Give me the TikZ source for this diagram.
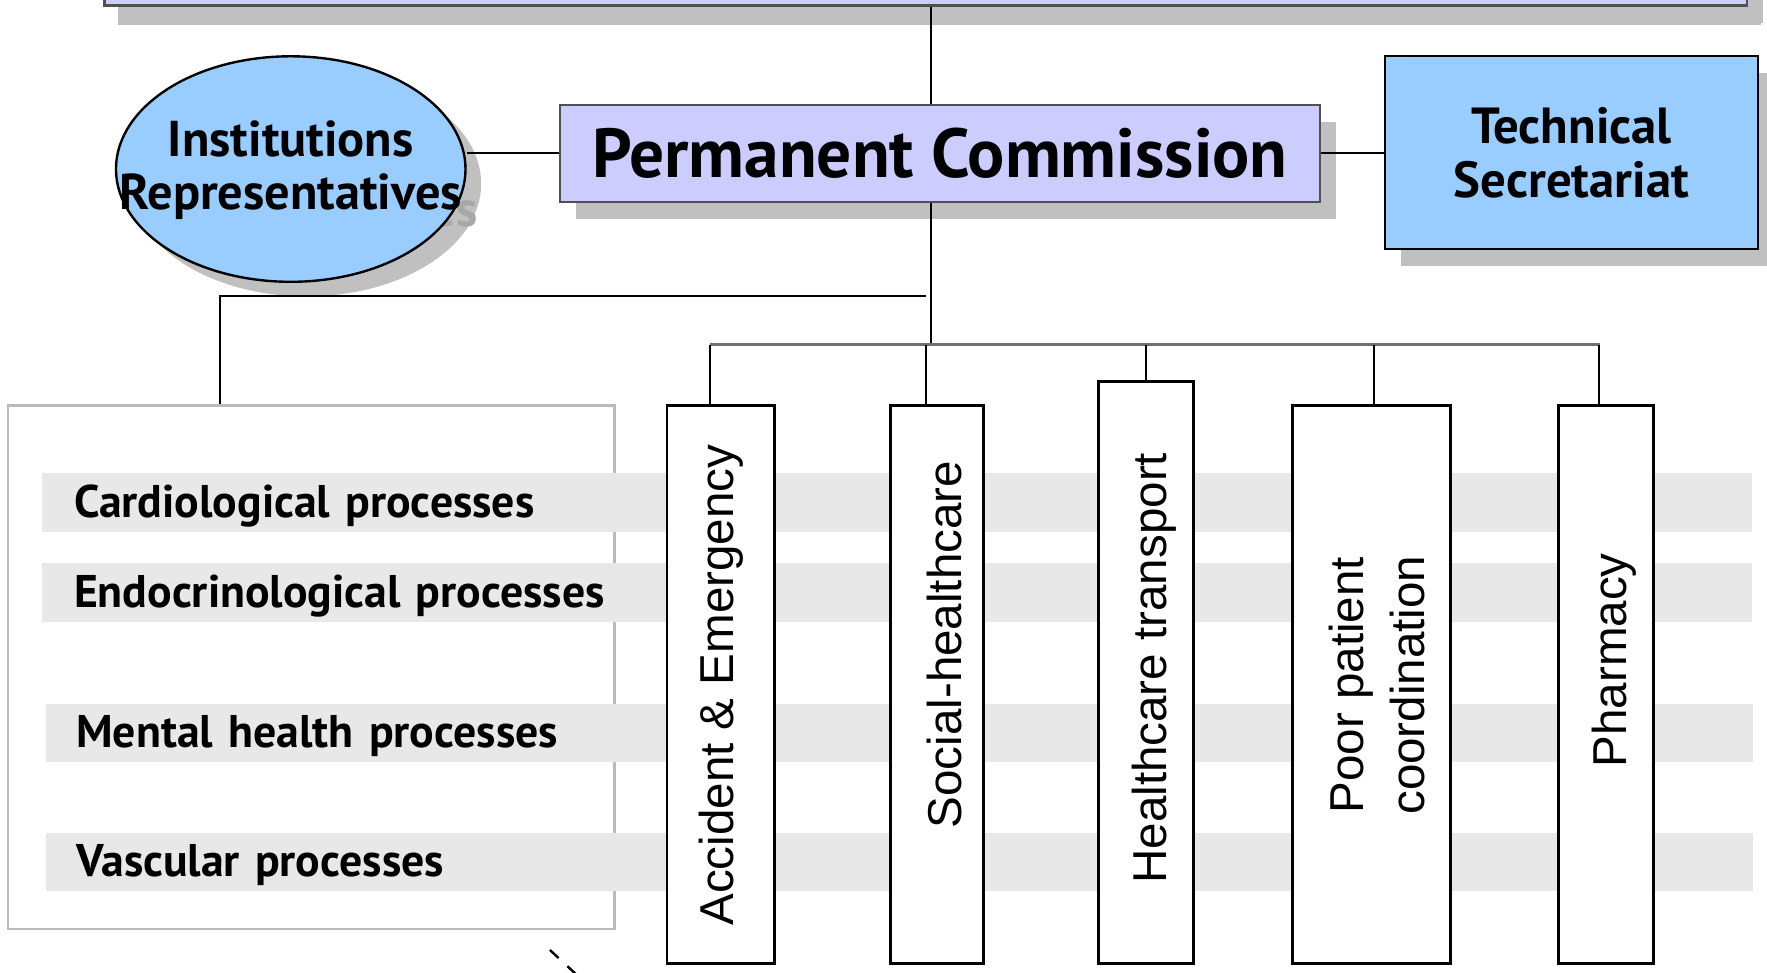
\documentclass[tikz,border=0pt]{standalone}
\usepackage{fontspec}
\setmainfont{PT Sans}
\newfontfamily\arialfont{Liberation Sans}
\usepackage{tikz}
\usetikzlibrary{shapes.geometric,shadows}
\definecolor{lavender}{HTML}{CCCCFF}
\definecolor{skyblue}{HTML}{99CCFF}
\definecolor{shadowgray}{HTML}{C0C0C0}
\definecolor{ghostgray}{HTML}{A8A8A8}
\definecolor{bandgray}{HTML}{E8E8E8}
\definecolor{framegray}{HTML}{BBBBBB}
\definecolor{edgegray}{HTML}{505050}
\definecolor{busgray}{HTML}{707070}
\tikzset{
  boxshadow/.style={drop shadow={shadow xshift=0.14cm, shadow yshift=-0.15cm, fill=shadowgray, opacity=1}},
  chairbox/.style={draw=edgegray, line width=0.6pt, fill=lavender, inner sep=0pt, boxshadow},
  secbox/.style={draw=black, line width=0.6pt, fill=skyblue, inner sep=0pt, align=center,
    font=\fontsize{12.8}{13.6}\selectfont\bfseries, boxshadow},
  instshape/.style={ellipse, draw=black, line width=0.6pt, fill=skyblue, inner sep=0pt,
    minimum width=3.10cm, minimum height=2.00cm},
  instlab/.style={align=center, inner sep=0pt, font=\fontsize{12.7}{13.6}\selectfont\bfseries},
  areabox/.style={draw=black, line width=0.7pt, fill=white, inner sep=0pt},
  arealab/.style={rotate=90, align=center, inner sep=0pt, font=\arialfont\fontsize{12}{15.3}\selectfont},
  procband/.style={fill=bandgray, anchor=west, minimum height=0.52cm, text width=14.60cm,
    text height=0.29cm, text depth=0.03cm,
    inner xsep=0.28cm, inner ysep=0pt, align=left, font=\fontsize{11.55}{12}\selectfont\bfseries},
  link/.style={draw=black, line width=0.45pt}
}

\begin{document}
\begin{tikzpicture}[x=0.01cm, y=-0.01cm]
  \useasboundingbox (0,0) rectangle (1568,863);

  % board on top, cut by the page edge
  \node[chairbox, minimum width=14.57cm, minimum height=0.30cm,
    drop shadow={shadow xshift=0.12cm, shadow yshift=-0.17cm, fill=shadowgray, opacity=1}]
    (board) at (821.5,-10) {};

  \coordinate (spine) at (826,0);
  \coordinate (branch) at (822,263);
  \coordinate (bus) at (630,306);

  % commission and its two sides
  \node[chairbox, minimum width=6.74cm, minimum height=0.86cm,
    font=\fontsize{17.5}{22}\selectfont\bfseries] (pc) at (834,136) {Permanent Commission};
  \node[secbox, minimum width=3.31cm, minimum height=1.71cm] (ts) at (1394.5,135.5) {Technical\\Secretariat};

  \fill[shadowgray] (272,163) ellipse [x radius=155, y radius=100];
  \node[instlab, text=ghostgray] (instghost) at (272,166) {Institutions\\Representatives};
  \node[instshape] (inst) at (258,150) {};
  \node[instlab] (instlab) at (258,151) {Institutions\\Representatives};

  \draw[link] (board.south -| spine) -- (pc.north -| spine);
  \draw[link] (pc.west) -- (pc.west -| inst.east);
  \draw[link] (pc.east) -- (ts.west |- pc.east);
  \draw[link] (pc.south -| spine) -- (spine |- bus);

  % processes frame
  \node[draw=framegray, line width=0.6pt, fill=white, minimum width=5.38cm, minimum height=4.64cm]
    (frame) at (276,592) {};
  \draw[link] (branch) -| (frame.north -| 195,0);

  \node[procband] (cardio) at (37,446) {Cardiological processes};
  \node[procband] (endo) at (37,526) {Endocrinological processes};
  \node[procband, inner xsep=0.27cm] (mental) at (40,650.5) {Mental health processes};
  \node[procband, inner xsep=0.27cm] (vasc) at (40,765) {Vascular processes};

  % transversal areas
  \node[areabox, minimum width=0.95cm, minimum height=4.95cm] (ae) at (639.5,607.5) {};
  \node[areabox, minimum width=0.83cm, minimum height=4.95cm] (sh) at (831.5,607.5) {};
  \node[areabox, minimum width=0.84cm, minimum height=5.16cm] (ht) at (1017,597) {};
  \node[areabox, minimum width=1.40cm, minimum height=4.95cm] (pp) at (1217,607.5) {};
  \node[areabox, minimum width=0.84cm, minimum height=4.95cm] (ph) at (1425,607.5) {};

  \node[arealab] (aelab) at (640,608) {Accident \& Emergency};
  \node[arealab] (shlab) at (838,572) {Social-healthcare};
  \node[arealab] (htlab) at (1024,593) {Healthcare transport};
  \node[arealab] (pplab) at (1222,608) {Poor patient\\coordination};
  \node[arealab] (phlab) at (1432,586) {Pharmacy};

  \draw[busgray, line width=0.7pt] (bus) -- (1420,306);
  \foreach \n/\x in {ae/630, sh/822, ht/1017, pp/1219, ph/1419}
    \draw[link] (\x,306) -- (\n.north -| \x,0);

  \coordinate (dashA) at (488,843);
  \coordinate (dashB) at (516,869);
  \draw[dashed, line width=0.6pt] (dashA) -- (dashB);
\end{tikzpicture}
\end{document}
